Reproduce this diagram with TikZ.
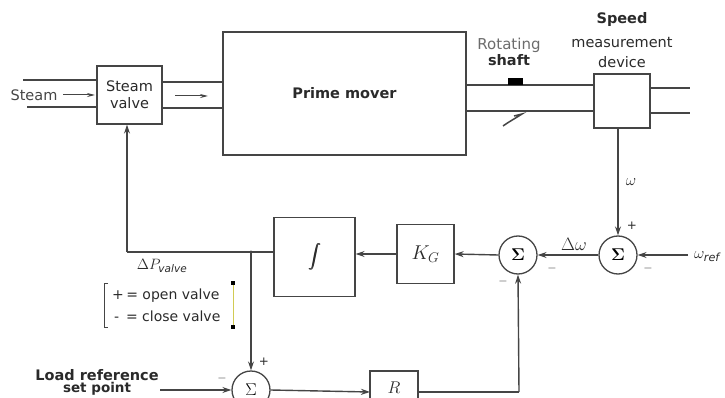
\RequirePackage{fix-cm}
\documentclass[tikz,border=0pt]{standalone}
\usepackage{amsmath}
\usepackage{fontspec}
\setmainfont{DejaVu Sans}
\usetikzlibrary{arrows.meta}
\definecolor{ln}{HTML}{454545}
\definecolor{tx}{HTML}{2A2A2A}
\newcommand{\fakebold}[1]{\rlap{#1}\hspace{0.5pt}\rlap{#1}\hspace{0.5pt}#1}
\begin{document}
\begin{tikzpicture}[x=1pt,y=-1pt,
  blk/.style={draw=ln, line width=1.3pt, fill=white, inner sep=0pt, text=tx},
  sum/.style={circle, draw=ln, line width=1.3pt, fill=white, minimum size=38pt, inner sep=0pt, font=\fontsize{17}{17}\selectfont},
  arr/.style={-{Stealth[length=9pt,width=6pt]}, draw=ln, line width=1.4pt},
  wire/.style={draw=ln, line width=1.4pt},
  pipe/.style={draw=ln, line width=1.5pt},
  thinarr/.style={-{Stealth[length=8pt,width=4pt]}, draw=ln, line width=1pt},
  lbl/.style={inner sep=0pt, text=tx},
  sgn/.style={inner sep=0pt, text=tx, font=\fontsize{12}{12}\selectfont}]
\useasboundingbox (0,0) rectangle (725,398);
\clip (0,0) rectangle (725,398);

% ---------- steam path ----------
\coordinate (s1a) at (23,80);  \coordinate (s1b) at (97,80);
\coordinate (s2a) at (27,107); \coordinate (s2b) at (97,107);
\draw[pipe] (s1a) -- (s1b);
\draw[pipe] (s2a) -- (s2b);
\node[lbl, font=\fontsize{14.5}{14.5}\selectfont, text=ln] (steam) at (34,95) {Steam};
\coordinate (sa0) at (63,95); \coordinate (sa1) at (95,95);
\draw[thinarr] (sa0) -- (sa1);

\node[blk, minimum width=65pt, minimum height=58pt, align=center,
      font=\fontsize{14.5}{17}\selectfont] (valve) at (129.5,95) {Steam\\valve};

\coordinate (p1a) at (162,82);  \coordinate (p1b) at (223,82);
\coordinate (p2a) at (162,108); \coordinate (p2b) at (223,108);
\draw[pipe] (p1a) -- (p1b);
\draw[pipe] (p2a) -- (p2b);
\coordinate (pa0) at (175,96); \coordinate (pa1) at (208,96);
\draw[thinarr] (pa0) -- (pa1);

\node[blk, minimum width=243pt, minimum height=123pt,
      font=\fontsize{14.5}{14.5}\selectfont\bfseries] (prime) at (344.5,93.5) {Prime mover};

% ---------- shaft ----------
\node[blk, minimum width=56pt, minimum height=54pt] (speed) at (622,101) {};
\coordinate (sh1a) at (466,85);  \coordinate (sh1b) at (594,85);
\coordinate (sh2a) at (466,111); \coordinate (sh2b) at (594,111);
\draw[pipe] (sh1a) -- (sh1b);
\draw[pipe] (sh2a) -- (sh2b);
\coordinate (sh3a) at (650,88);  \coordinate (sh3b) at (690,88);
\coordinate (sh4a) at (650,113); \coordinate (sh4b) at (690,113);
\draw[pipe] (sh3a) -- (sh3b);
\draw[pipe] (sh4a) -- (sh4b);
\fill[black] (508,78) rectangle (523,85);
\draw[draw=ln, line width=1.5pt] (503,126) .. controls (510,121) and (516,118) .. (522,114) -- (514,116);

\node[lbl, text=gray!85!black, font=\fontsize{15}{15}\selectfont] (rot) at (509,45) {Rotating};
\node[lbl, font=\fontsize{14.5}{14.5}\selectfont\bfseries] (shaft) at (509,60) {shaft};
\node[lbl, font=\fontsize{14.5}{14.5}\selectfont\bfseries] (spd) at (622,20) {Speed};
\node[lbl, font=\fontsize{14.5}{14.5}\selectfont] (meas) at (622,43) {measurement};
\node[lbl, font=\fontsize{14.5}{14.5}\selectfont] (dev) at (622,62) {device};

% ---------- control loop ----------
\node[sum] (sum2) at (618,255) {$\boldsymbol{\Sigma}$};
\node[sum] (sum1) at (518,255) {$\boldsymbol{\Sigma}$};
\node[blk, minimum width=57pt, minimum height=59pt, font=\fontsize{20}{20}\selectfont] (kg) at (425.5,254) {$K_G$};
\node[blk, minimum width=81pt, minimum height=79pt, font=\fontsize{13}{13}\selectfont] (integ) at (314.5,257) {\fakebold{$\displaystyle\int$}};
\node[sum] (sum3) at (251,390) {$\Sigma$};

% R block (cut off by the lower edge)
\coordinate (Rw) at (370,392);
\coordinate (Re) at (418,392);
\draw[draw=ln, line width=1.3pt] (370,410) -- (370,371) -- (418,371) -- (418,410);
\node[lbl, font=\fontsize{17}{17}\selectfont] (R) at (394,388) {$R$};

\draw[arr] (speed.south -| sum2.north) -- (sum2.north);
\node[lbl, font=\fontsize{16}{16}\selectfont] (w) at (631,182) {$\omega$};
\node[sgn] (p2) at (632,226) {+};

\coordinate (wref) at (688,255);
\draw[arr] (wref) -- (sum2.east);
\node[lbl, font=\fontsize{16}{16}\selectfont, anchor=west] (wr) at (694,257) {$\omega_{\mathit{ref}}$};
\node[sgn] (m2) at (648,268) {$-$};

\draw[arr] (sum2.west) -- (sum1.east);
\node[lbl, font=\fontsize{18}{18}\selectfont] (dw) at (574,244) {$\Delta\omega$};
\node[sgn] (m1) at (552,268) {$-$};
\node[sgn] (m1b) at (503,281) {$-$};

\draw[arr] (sum1.west) -- (kg.east);
\draw[arr] (kg.west) -- (kg.west -| integ.east);

\coordinate (j) at (251,252);
\coordinate (vc) at (127,252);
\draw[wire] (integ.west |- j) -- (vc);
\draw[arr] (vc) -- (vc |- valve.south);
\fill[ln] (j) circle (1.7pt);
\draw[arr] (j) -- (sum3.north);
\node[sgn] (p3) at (264,362) {+};
\node[sgn] (m3) at (222,378) {$-$};

\node[lbl, font=\fontsize{15}{15}\selectfont] (dp) at (162,266) {$\Delta P_{\mathit{valve}}$};

% bracket legend
\draw[draw=ln, line width=0.8pt] (108,283) -- (104,283) -- (104,327) -- (108,327);
\draw[draw=yellow!60!gray, line width=0.8pt] (233,284) -- (233,326);
\fill[black] (231,281) rectangle (235,285);
\fill[black] (231,325) rectangle (235,329);
\node[lbl, font=\fontsize{14}{14}\selectfont, anchor=west] (open) at (112,296) {+\,= open valve};
\node[lbl, font=\fontsize{14}{14}\selectfont, anchor=west] (close) at (114,316) {-\, = close valve};

% load reference
\node[lbl, font=\fontsize{14.5}{14.5}\selectfont\bfseries] (load) at (97,375) {Load reference};
\node[lbl, font=\fontsize{13.5}{13.5}\selectfont\bfseries] (setp) at (97,389) {set point};
\coordinate (lr) at (160,390);
\draw[arr] (lr) -- (sum3.west);
\draw[arr] (sum3.east) -- (Rw);
\coordinate (rc) at (519,392);
\draw[wire] (Re) -- (rc);
\draw[arr] (rc) -- (sum1.south);
\end{tikzpicture}
\end{document}
